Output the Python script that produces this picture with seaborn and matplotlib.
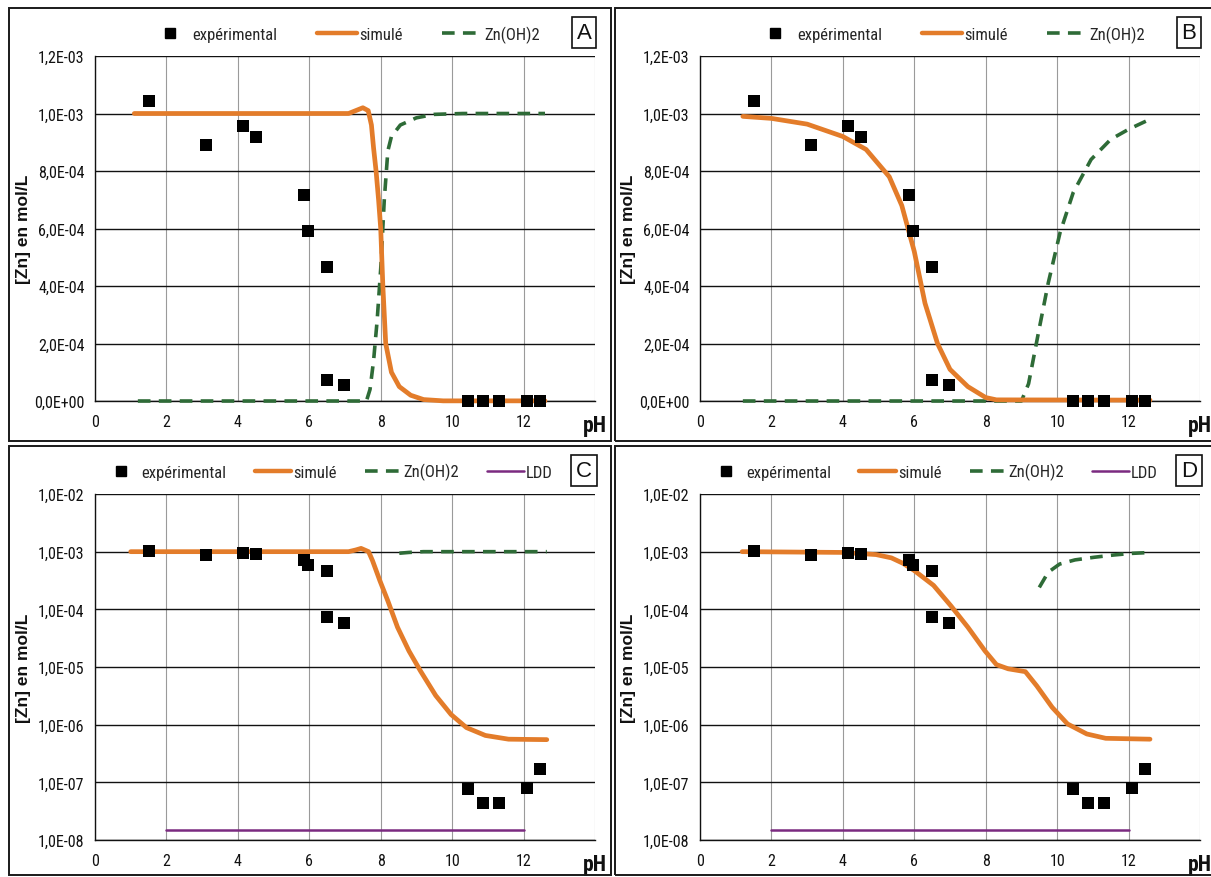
import matplotlib
matplotlib.use("Agg")
import matplotlib.pyplot as plt
import matplotlib.ticker as mticker
from matplotlib.patches import Rectangle
from matplotlib.lines import Line2D
from matplotlib import font_manager
import seaborn as sns

# experimental points (same in all four panels)
ph_exp = [1.5, 3.1, 4.15, 4.5, 5.85, 5.95, 6.5, 6.5, 6.97, 10.45, 10.85, 11.3, 12.1, 12.45]
zn_exp = [1.045e-3, 0.89e-3, 0.955e-3, 0.92e-3, 0.715e-3, 0.59e-3, 0.465e-3, 7.3e-5, 5.7e-5,
          7.6e-8, 4.4e-8, 4.4e-8, 8.1e-8, 1.7e-7]

# panel A - simulated (linear)
ph_sim_a = [1.1, 7.1, 7.3, 7.5, 7.65, 7.74, 7.8, 7.87, 7.94, 8.0, 8.06, 8.14, 8.3, 8.52, 8.84, 9.2, 9.75, 12.6]
zn_sim_a = [1.0e-3, 1.0e-3, 1.01e-3, 1.02e-3, 1.01e-3, 0.96e-3, 0.88e-3, 0.8e-3, 0.7e-3, 0.6e-3, 0.4e-3,
            0.2e-3, 0.1e-3, 0.05e-3, 0.02e-3, 0.005e-3, 0.5e-6, 0.5e-6]
ph_oh_a = [1.2, 7.6, 7.7, 7.8, 7.9, 8.0, 8.05, 8.1, 8.2, 8.3, 8.55, 9.0, 9.5, 10.3, 12.6]
zn_oh_a = [0.0, 0.0, 0.04e-3, 0.14e-3, 0.28e-3, 0.46e-3, 0.58e-3, 0.7e-3, 0.87e-3, 0.92e-3, 0.96e-3,
           0.985e-3, 0.997e-3, 1.0e-3, 1.0e-3]

# panel B - simulated (linear)
ph_sim_b = [1.2, 2.0, 3.0, 4.0, 4.65, 5.3, 5.65, 6.0, 6.3, 6.65, 7.0, 7.5, 8.0, 8.3, 12.6]
zn_sim_b = [0.99e-3, 0.983e-3, 0.963e-3, 0.92e-3, 0.875e-3, 0.78e-3, 0.68e-3, 0.52e-3, 0.34e-3, 0.2e-3,
            0.11e-3, 0.05e-3, 0.012e-3, 0.004e-3, 0.003e-3]
ph_oh_b = [1.2, 9.0, 9.2, 9.48, 9.75, 10.08, 10.45, 10.95, 11.5, 12.0, 12.6]
zn_oh_b = [0.0, 0.0, 0.06e-3, 0.24e-3, 0.41e-3, 0.585e-3, 0.725e-3, 0.84e-3, 0.91e-3, 0.945e-3, 0.98e-3]

# panel C - simulated (log)
ph_sim_c = [1.0, 7.1, 7.3, 7.45, 7.66, 7.77, 7.98, 8.2, 8.47, 8.79, 9.11, 9.54, 9.97, 10.4, 10.93, 11.58, 12.65]
zn_sim_c = [1.0e-3, 1.0e-3, 1.07e-3, 1.14e-3, 1.0e-3, 7.0e-4, 3.1e-4, 1.4e-4, 4.9e-5, 1.9e-5, 8.6e-6,
            3.2e-6, 1.5e-6, 8.9e-7, 6.5e-7, 5.6e-7, 5.5e-7]
ph_oh_c = [8.52, 8.79, 9.2, 12.65]
zn_oh_c = [0.94e-3, 0.97e-3, 1.0e-3, 1.0e-3]

# panel D - simulated (log)
ph_sim_d = [1.18, 4.0, 4.93, 5.36, 5.68, 6.0, 6.54, 7.02, 7.5, 7.98, 8.3, 8.63, 9.11, 9.43, 9.86, 10.29,
            10.83, 11.36, 12.6]
zn_sim_d = [1.0e-3, 0.97e-3, 8.9e-4, 7.8e-4, 6.3e-4, 4.7e-4, 2.6e-4, 1.16e-4, 4.9e-5, 1.9e-5, 1.1e-5,
            9.3e-6, 8.3e-6, 4.7e-6, 2.0e-6, 1.03e-6, 6.9e-7, 5.8e-7, 5.6e-7]
ph_oh_d = [9.5, 9.75, 10.07, 10.5, 11.04, 11.58, 12.1, 12.65]
zn_oh_d = [2.4e-4, 4.4e-4, 6.1e-4, 7.2e-4, 8.0e-4, 8.75e-4, 9.35e-4, 9.7e-4]

# detection limit
ph_ldd = [2, 12]
zn_ldd = [1.5e-8, 1.5e-8]

ORANGE = "#E37C2A"
GREEN = "#2E6B37"
PURPLE = "#7B2A80"
W, H = 1211, 878
DASH = (0, (3.5, 2.3))

# pick a condensed face if one is installed, else Arial-metric Liberation Sans
installed = {f.name for f in font_manager.fontManager.ttflist}
narrow = [n for n in ["Liberation Sans Narrow", "DejaVu Sans Condensed", "Roboto Condensed"]
          if n in installed]
NARROW = narrow[:1] + ["Liberation Sans", "DejaVu Sans"]
is_narrow = bool(narrow)
TICK_FS = 11.5 if is_narrow else 10
LEG_FS = 12 if is_narrow else 10.5

sns.set_style("white")
plt.rcParams["font.family"] = NARROW

fig = plt.figure(figsize=(W / 100, H / 100), dpi=100)


def px_rect(x0, y0, x1, y1):
    return [x0 / W, 1 - y1 / H, (x1 - x0) / W, (y1 - y0) / H]


def sci(v, pos):
    return f"{v:.1E}".replace(".", ",")


def panel(frame, box, letter, sim, oh, log):
    fx0, fy0, fx1, fy1 = frame
    fig.add_artist(Rectangle((fx0 / W, 1 - fy1 / H), (fx1 - fx0) / W, (fy1 - fy0) / H,
                             transform=fig.transFigure, fill=False, ec="#1a1a1a", lw=1.4))
    ax = fig.add_axes(px_rect(*box))
    if log:
        ax.set_yscale("log")
        ax.set_ylim(1e-8, 1e-2)
        ax.set_yticks([1e-8, 1e-7, 1e-6, 1e-5, 1e-4, 1e-3, 1e-2])
        ax.yaxis.set_minor_locator(mticker.NullLocator())
    else:
        ax.set_ylim(0, 1.2e-3)
        ax.set_yticks([0, 2e-4, 4e-4, 6e-4, 8e-4, 1e-3, 1.2e-3])
    ax.yaxis.set_major_formatter(mticker.FuncFormatter(sci))
    ax.set_xlim(0, 14)
    ax.set_xticks(range(0, 15, 2))
    ax.set_xticklabels(["0", "2", "4", "6", "8", "10", "12", "pH"])

    ax.yaxis.grid(True, color="#111111", lw=1.0)
    ax.xaxis.grid(True, color="#9a9a9a", lw=0.8)
    for s in ["top", "right"]:
        ax.spines[s].set_visible(False)
    for s in ["left", "bottom"]:
        ax.spines[s].set_color("#111111")
        ax.spines[s].set_linewidth(1.0)
    ax.tick_params(axis="both", direction="inout", length=7, width=1, color="#111111",
                   labelsize=TICK_FS, labelcolor="#111111", pad=4)
    ax.tick_params(axis="x", pad=6)
    lab = ax.get_xticklabels()[-1]
    lab.set_fontsize(TICK_FS + 4)
    lab.set_fontweight("bold")

    handles = [Line2D([], [], ls="none", marker="s", ms=6.5, mfc="black", mec="black"),
               Line2D([], [], color=ORANGE, lw=3.2),
               Line2D([], [], color=GREEN, lw=2.6, ls=DASH)]
    names = ["expérimental", "simulé", "Zn(OH)2"]

    if log:
        sns.lineplot(x=ph_ldd, y=zn_ldd, ax=ax, color=PURPLE, lw=1.8, sort=False,
                     estimator=None, legend=False, zorder=3)
        handles.append(Line2D([], [], color=PURPLE, lw=1.8))
        names.append("LDD")
    sns.lineplot(x=oh[0], y=oh[1], ax=ax, color=GREEN, lw=2.6, linestyle=DASH,
                 sort=False, estimator=None, legend=False, zorder=3)
    sns.lineplot(x=sim[0], y=sim[1], ax=ax, color=ORANGE, lw=3.4, sort=False,
                 estimator=None, legend=False, zorder=4)
    sns.scatterplot(x=ph_exp, y=zn_exp, ax=ax, color="black", marker="s", s=64,
                    edgecolor="black", linewidth=0, legend=False, zorder=5)
    for t in ax.get_lines() + ax.collections:
        t.set_clip_on(False)

    ax.set_ylabel("[Zn] en mol/L", fontsize=12.5, fontweight="bold",
                  fontfamily=["Liberation Sans", "DejaVu Sans"], color="#111111")
    ax.yaxis.set_label_coords(-64 / 500, 0.5)
    ax.set_xlabel("")

    if log:
        leg_x, ncol, spacing, hl = 0.465, 4, 1.7, 2.2
    else:
        leg_x, ncol, spacing, hl = 0.5, 3, 2.4, 2.4
    ax.legend(handles, names, loc="center", bbox_to_anchor=(leg_x, 1.064), ncol=ncol,
              frameon=False, fontsize=LEG_FS, handlelength=hl, handletextpad=0.1,
              columnspacing=spacing)
    ax.text(0.978, 1.067, letter, transform=ax.transAxes, ha="center", va="center",
            fontsize=16, fontfamily=["Liberation Sans", "DejaVu Sans"], color="#111111",
            bbox=dict(boxstyle="square,pad=0.22", fc="white", ec="#111111", lw=1.2))
    return ax


panel((9, 9, 611, 442), (95, 57, 595, 402), "A", (ph_sim_a, zn_sim_a), (ph_oh_a, zn_oh_a), False)
panel((615, 9, 1216, 442), (700, 57, 1200, 402), "B", (ph_sim_b, zn_sim_b), (ph_oh_b, zn_oh_b), False)
panel((9, 447, 611, 876), (95, 495, 595, 841), "C", (ph_sim_c, zn_sim_c), (ph_oh_c, zn_oh_c), True)
panel((615, 447, 1216, 876), (700, 495, 1200, 841), "D", (ph_sim_d, zn_sim_d), (ph_oh_d, zn_oh_d), True)

fig.savefig("out.png", dpi=100)
